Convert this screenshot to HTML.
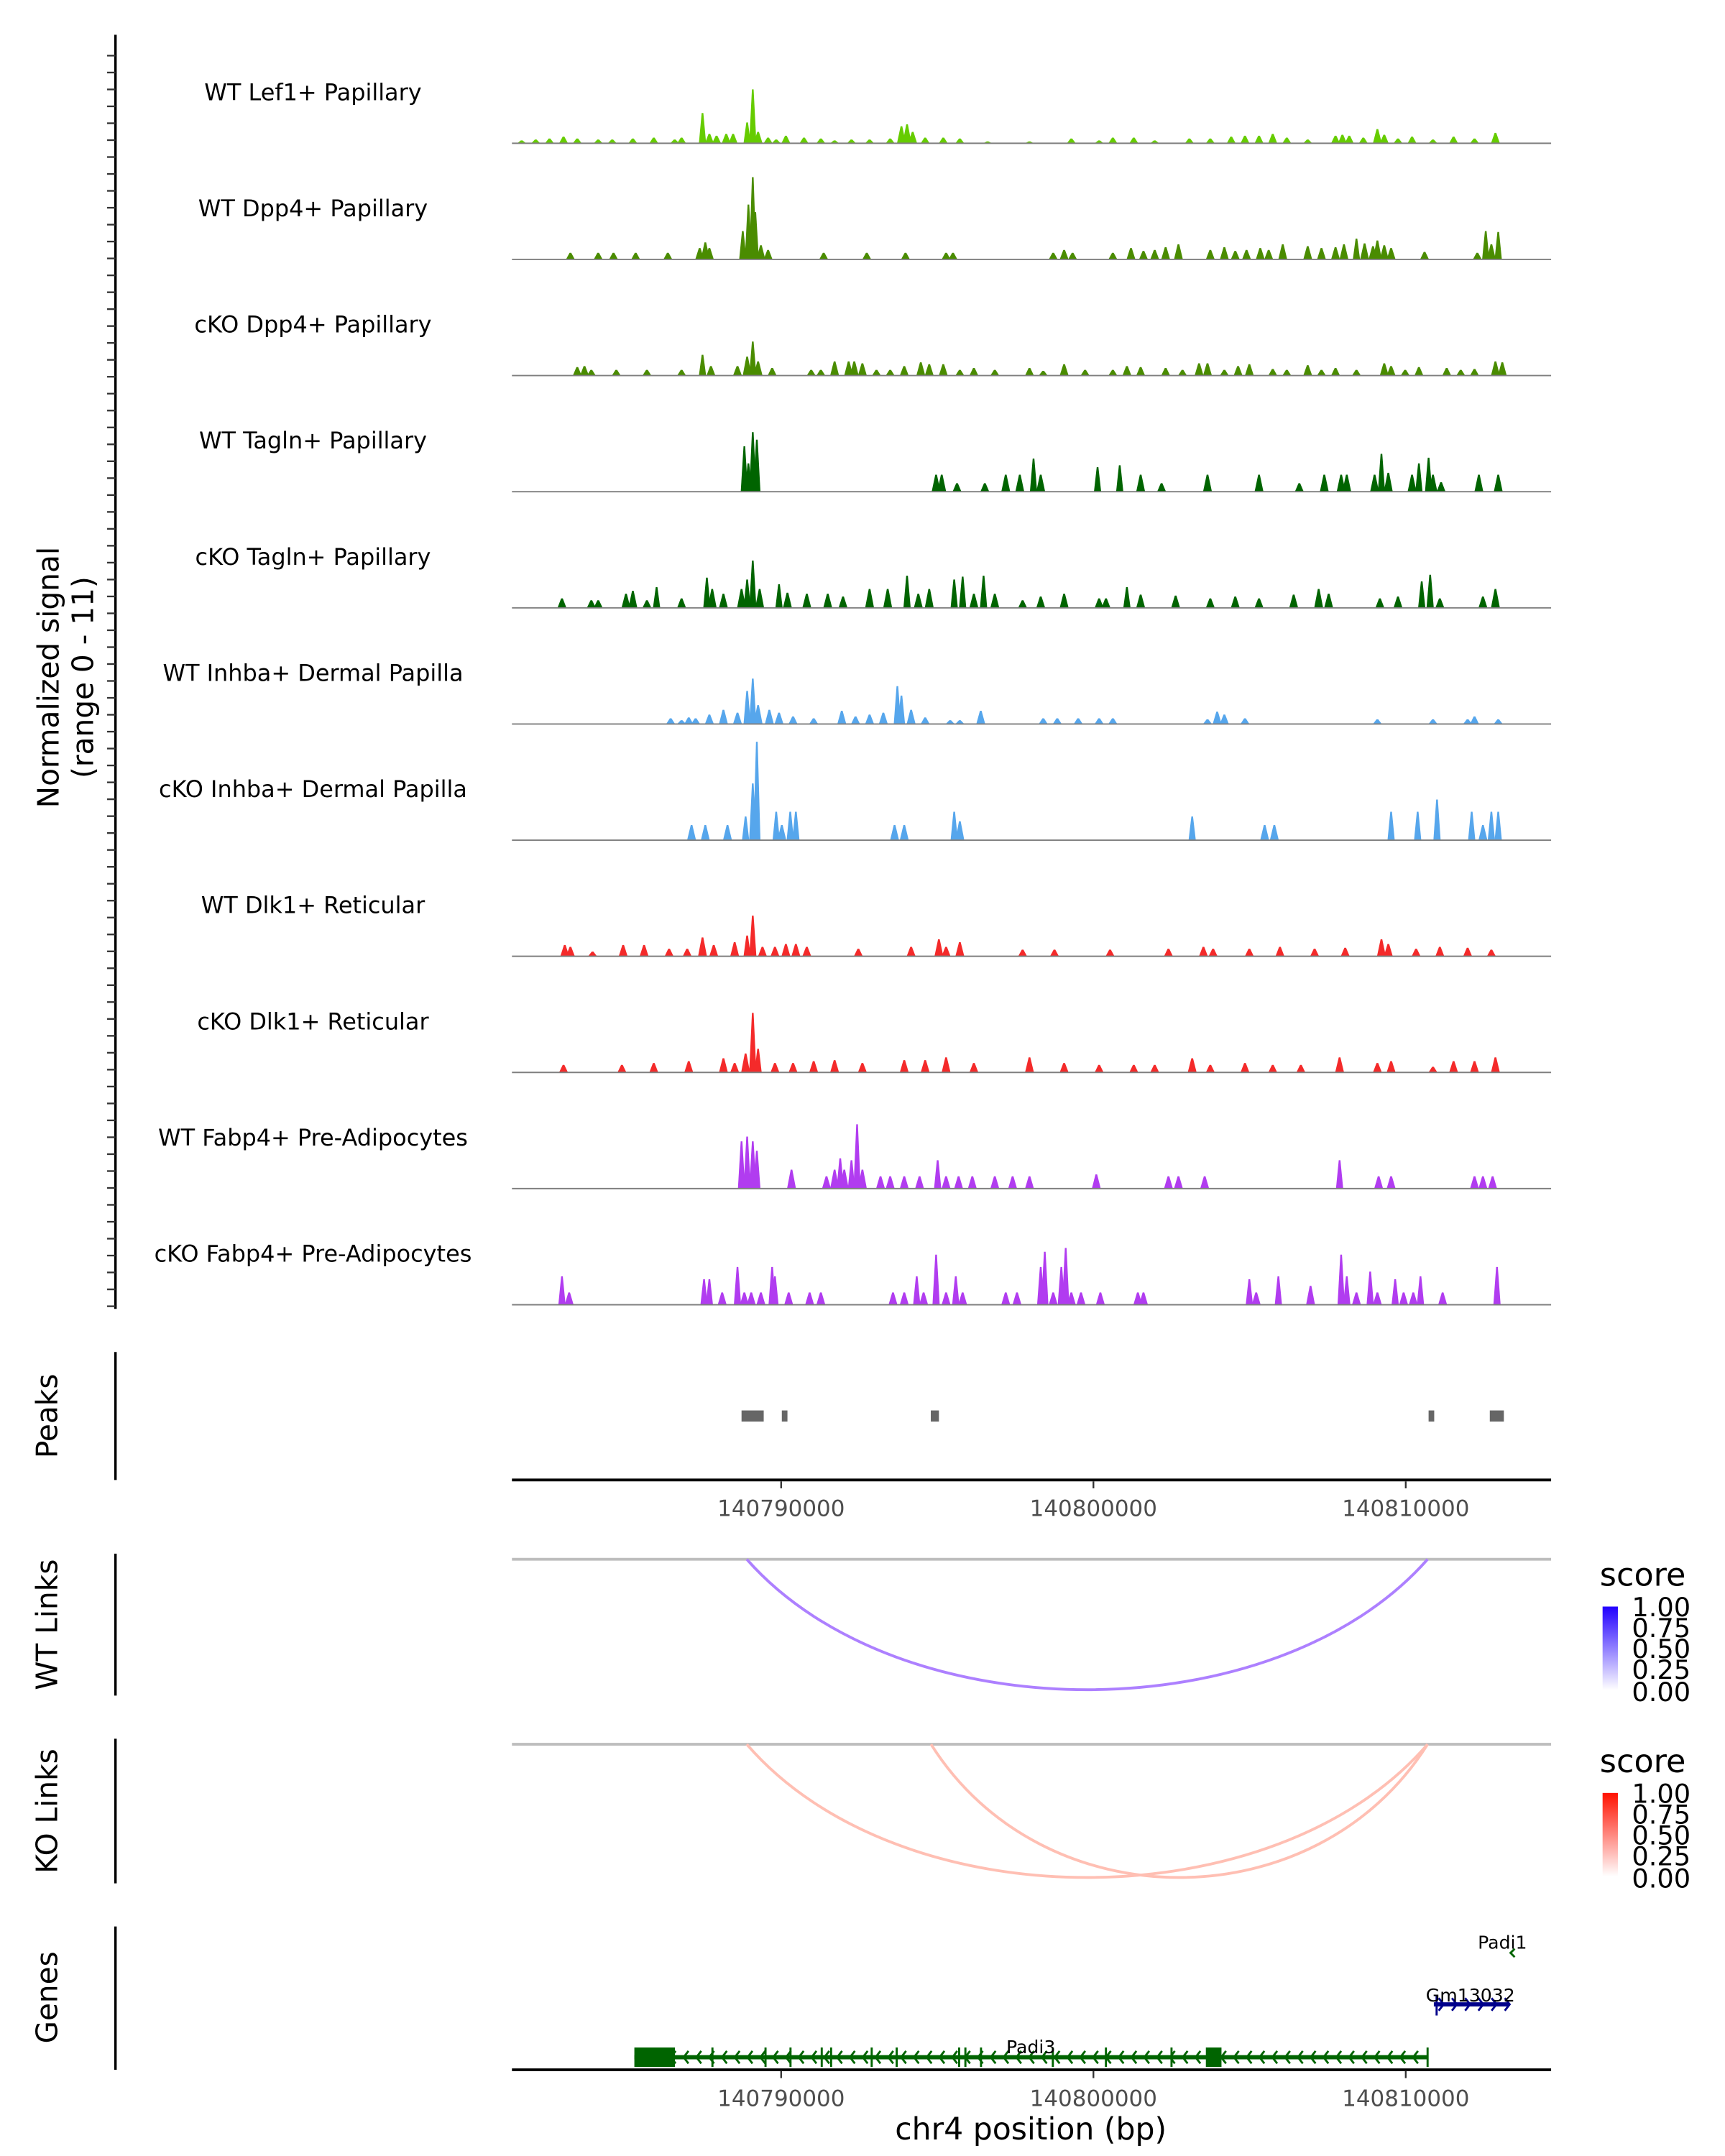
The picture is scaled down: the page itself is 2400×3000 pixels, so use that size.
<!DOCTYPE html>
<html><head><meta charset="utf-8"><style>
html,body{margin:0;padding:0;background:#fff;}
svg{display:block;font-family:"DejaVu Sans","Liberation Sans",sans-serif;}
</style></head><body>
<svg id="fig" width="2400" height="3000" viewBox="0 0 1240 1550" preserveAspectRatio="none" xmlns="http://www.w3.org/2000/svg">
<rect x="0" y="0" width="1240" height="1550" fill="#fff"/>
<g id="tracks"></g>
<line x1="83" y1="25" x2="83" y2="941" stroke="#000" stroke-width="1.8"/>
<g id="yticks"></g>
<text transform="translate(42,487) rotate(-90)" text-anchor="middle" font-size="21">Normalized signal</text>
<text transform="translate(67,487) rotate(-90)" text-anchor="middle" font-size="21">(range 0 - 11)</text>

<line x1="83" y1="972" x2="83" y2="1064" stroke="#000" stroke-width="1.8"/>
<text transform="translate(41,1018) rotate(-90)" text-anchor="middle" font-size="21">Peaks</text>
<g id="peaks"></g>
<g id="xaxis1"></g>

<line x1="83" y1="1117" x2="83" y2="1219" stroke="#000" stroke-width="1.8"/>
<text transform="translate(41,1168) rotate(-90)" text-anchor="middle" font-size="21">WT Links</text>
<line x1="368" y1="1121" x2="1115" y2="1121" stroke="#bdbdbd" stroke-width="2"/>
<g id="wtlinks"></g>

<line x1="83" y1="1250" x2="83" y2="1354" stroke="#000" stroke-width="1.8"/>
<text transform="translate(41,1302) rotate(-90)" text-anchor="middle" font-size="21">KO Links</text>
<line x1="368" y1="1254" x2="1115" y2="1254" stroke="#bdbdbd" stroke-width="2"/>
<g id="kolinks"></g>

<defs>
<linearGradient id="gblue" x1="0" y1="1" x2="0" y2="0"><stop offset="0" stop-color="#fff"/><stop offset="1" stop-color="#2200ff"/></linearGradient>
<linearGradient id="gred" x1="0" y1="1" x2="0" y2="0"><stop offset="0" stop-color="#fff"/><stop offset="1" stop-color="#ff1100"/></linearGradient>
</defs>
<g>
<text x="1150" y="1140" font-size="23">score</text>
<rect x="1152" y="1155" width="11" height="60" fill="url(#gblue)"/>
<g font-size="19"><text x="1173" y="1162">1.00</text><text x="1173" y="1177">0.75</text><text x="1173" y="1192">0.50</text><text x="1173" y="1207">0.25</text><text x="1173" y="1223">0.00</text></g>
</g>
<g>
<text x="1150" y="1274" font-size="23">score</text>
<rect x="1152" y="1289" width="11" height="60" fill="url(#gred)"/>
<g font-size="19"><text x="1173" y="1296">1.00</text><text x="1173" y="1311">0.75</text><text x="1173" y="1326">0.50</text><text x="1173" y="1341">0.25</text><text x="1173" y="1357">0.00</text></g>
</g>

<line x1="83" y1="1385" x2="83" y2="1488" stroke="#000" stroke-width="1.8"/>
<text transform="translate(41,1436) rotate(-90)" text-anchor="middle" font-size="21">Genes</text>
<g id="genes"></g>
<g id="xaxis2"></g>
<text x="741" y="1538" text-anchor="middle" font-size="22">chr4 position (bp)</text>
</svg>
<script>
const ORIGIN = 140780312;
const trackNames = ["WT Lef1+ Papillary","WT Dpp4+ Papillary","cKO Dpp4+ Papillary","WT Tagln+ Papillary","cKO Tagln+ Papillary","WT Inhba+ Dermal Papilla","cKO Inhba+ Dermal Papilla","WT Dlk1+ Reticular","cKO Dlk1+ Reticular","WT Fabp4+ Pre-Adipocytes","cKO Fabp4+ Pre-Adipocytes"];
const trackColors = ["#66cc00","#4a8c00","#4a8c00","#006400","#006400","#56a6ec","#56a6ec","#f42a2a","#f42a2a","#b13cf0","#b13cf0"];
// [kb offset from ORIGIN, normalized signal]
const lef1WT = [[1.38,.3],[1.83,.4],[2.27,.5],[2.72,.7],[3.16,.5],[3.83,.4],[4.28,.4],[4.94,.5],[5.61,.6],[6.28,.4],[6.5,.6],[7.17,3.2],[7.39,1.0],[7.62,.8],[7.93,1.0],[8.15,1.0],[8.6,2.2],[8.78,5.7],[8.95,1.2],[9.27,.6],[9.53,.4],[9.84,.8],[10.42,.6],[10.96,.5],[11.4,.3],[11.94,.4],[12.52,.4],[13.18,.5],[13.54,1.8],[13.72,2.0],[13.9,1.2],[14.3,.6],[14.88,.6],[15.41,.5],[16.3,.2],[17.64,.2],[18.98,.5],[19.87,.3],[20.31,.6],[20.98,.6],[21.65,.3],[22.76,.5],[23.43,.5],[24.1,.7],[24.54,.8],[24.99,.8],[25.43,1.0],[25.88,.6],[26.55,.4],[27.44,.8],[27.66,.9],[27.88,.8],[28.33,.6],[28.78,1.5],[29.0,.9],[29.44,.5],[29.89,.7],[30.56,.4],[31.22,.7],[31.89,.5],[32.56,1.1]];
const dpp4WT = [[2.94,.7],[3.83,.7],[4.32,.7],[5.03,.7],[6.06,.7],[7.08,1.2],[7.26,1.8],[7.39,1.2],[8.46,3.0],[8.64,5.8],[8.78,8.7],[8.86,5.0],[9.04,1.5],[9.27,1.0],[11.05,.7],[12.43,.7],[13.67,.7],[14.97,.7],[15.19,.7],[18.4,.7],[18.75,1.0],[19.02,.7],[20.31,.7],[20.89,1.2],[21.29,.9],[21.65,1.0],[22.0,1.3],[22.41,1.6],[23.43,1.0],[23.88,1.3],[24.23,.9],[24.59,1.0],[25.03,1.2],[25.3,1.0],[25.75,1.6],[26.55,1.4],[26.99,1.2],[27.44,1.3],[27.71,1.6],[28.11,2.2],[28.37,1.7],[28.64,1.4],[28.78,2.0],[29.0,1.5],[29.22,1.2],[30.29,.8],[31.98,.7],[32.25,3.0],[32.43,1.6],[32.65,2.9]];
const dpp4KO = [[3.16,.9],[3.39,1.0],[3.61,.6],[4.41,.6],[5.39,.6],[6.5,.6],[7.17,2.2],[7.44,1.0],[8.29,1.0],[8.6,2.0],[8.78,3.6],[8.95,1.5],[9.4,.8],[10.65,.6],[10.96,.6],[11.4,1.5],[11.85,1.5],[12.03,1.5],[12.29,1.3],[12.74,.6],[13.18,.6],[13.63,1.0],[14.16,1.4],[14.43,1.2],[14.88,1.2],[15.41,.6],[15.86,.8],[16.53,.6],[17.64,.8],[18.08,.5],[18.75,1.2],[19.42,.6],[20.31,.6],[20.76,1.0],[21.2,.9],[22.0,.8],[22.54,.6],[23.07,1.3],[23.34,1.3],[23.88,.6],[24.32,1.0],[24.68,1.2],[25.43,.7],[25.88,.6],[26.55,1.1],[26.99,.6],[27.44,.8],[28.11,.6],[29.0,1.3],[29.22,1.0],[29.67,.6],[30.11,.9],[31.0,.8],[31.45,.6],[31.89,.7],[32.56,1.5],[32.78,1.4]];
const taglnWT = [[8.51,4.8],[8.64,3.0],[8.78,6.3],[8.91,5.5],[14.65,1.8],[14.83,1.8],[15.32,.9],[16.21,.9],[16.88,1.8],[17.33,1.8],[17.77,3.5],[18.0,1.8],[19.82,2.6],[20.53,2.8],[21.2,1.8],[21.87,.9],[23.34,1.8],[24.99,1.8],[26.28,.9],[27.08,1.8],[27.62,1.8],[27.8,1.8],[28.69,1.8],[28.91,4.0],[29.13,2.0],[29.89,1.8],[30.11,3.0],[30.42,3.6],[30.56,1.8],[30.82,1.0],[32.03,1.8],[32.65,1.8]];
const taglnKO = [[2.67,1.0],[3.61,.8],[3.83,.8],[4.72,1.5],[4.94,1.8],[5.39,.8],[5.7,2.2],[6.5,1.0],[7.31,3.2],[7.48,2.0],[7.84,1.5],[8.42,2.0],[8.6,3.0],[8.78,5.0],[9.0,2.0],[9.62,2.5],[9.89,1.6],[10.51,1.5],[11.18,1.5],[11.67,1.2],[12.52,2.0],[13.1,2.0],[13.72,3.4],[14.08,1.5],[14.43,2.0],[15.23,3.0],[15.5,3.3],[15.86,1.5],[16.17,3.4],[16.53,1.5],[17.42,.8],[18.0,1.2],[18.75,1.5],[19.87,1.0],[20.09,1.0],[20.76,2.2],[21.2,1.4],[22.32,1.3],[23.43,1.0],[24.23,1.2],[24.99,1.0],[26.1,1.4],[26.9,2.0],[27.22,1.5],[28.86,1.0],[29.44,1.2],[30.2,2.8],[30.47,3.5],[30.78,1.0],[32.16,1.2],[32.56,2.0]];
const inhbaWT = [[6.15,.6],[6.5,.4],[6.73,.7],[6.95,.6],[7.39,1.0],[7.84,1.5],[8.29,1.2],[8.6,3.5],[8.78,4.8],[8.95,2.0],[9.31,1.5],[9.62,1.2],[10.07,.8],[10.73,.6],[11.63,1.4],[12.07,.8],[12.52,1.0],[12.96,1.2],[13.41,4.0],[13.54,3.0],[13.85,1.5],[14.3,.7],[15.1,.4],[15.41,.4],[16.08,1.4],[18.08,.6],[18.53,.6],[19.2,.6],[19.87,.6],[20.31,.6],[23.34,.5],[23.65,1.3],[23.88,1.0],[24.54,.6],[28.78,.5],[30.56,.5],[31.67,.5],[31.89,.8],[32.65,.5]];
const inhbaKO = [[6.82,1.6],[7.26,1.6],[7.97,1.6],[8.55,2.5],[8.78,6.0],[8.91,10.4],[9.53,3.0],[9.71,1.6],[9.98,3.0],[10.16,3.0],[13.32,1.6],[13.63,1.6],[15.23,3.0],[15.41,2.0],[22.85,2.5],[25.17,1.6],[25.48,1.6],[29.22,3.0],[30.07,3.0],[30.69,4.3],[31.8,3.0],[32.16,1.6],[32.43,3.0],[32.65,3.0]];
const dlk1WT = [[2.76,1.2],[2.94,1.0],[3.65,.5],[4.63,1.2],[5.3,1.2],[6.1,.8],[6.68,.8],[7.17,2.0],[7.53,1.2],[8.2,1.5],[8.6,2.2],[8.78,4.3],[9.09,1.0],[9.49,1.0],[9.84,1.3],[10.16,1.3],[10.51,1.0],[12.16,.8],[13.85,1.0],[14.74,1.8],[14.97,1.0],[15.41,1.5],[17.42,.7],[18.44,.7],[20.22,.7],[22.09,.8],[23.21,1.0],[23.52,.8],[24.68,.8],[25.66,1.0],[26.77,.8],[27.75,.9],[28.91,1.8],[29.13,1.3],[30.02,.8],[30.78,1.0],[31.67,.9],[32.43,.7]];
const dlk1KO = [[2.72,.8],[4.59,.8],[5.61,1.0],[6.73,1.2],[7.84,1.5],[8.2,1.0],[8.55,2.0],[8.78,6.3],[8.95,2.5],[9.49,1.0],[10.07,1.0],[10.73,1.2],[11.4,1.3],[12.29,1.0],[13.63,1.3],[14.3,1.3],[14.97,1.6],[15.86,1.0],[17.64,1.6],[18.75,1.0],[19.87,.8],[20.98,.8],[21.65,.8],[22.85,1.5],[23.43,.8],[24.54,1.0],[25.43,.8],[26.33,.8],[27.57,1.6],[28.78,1.0],[29.22,1.2],[30.56,.6],[31.22,1.2],[31.89,1.2],[32.56,1.6]];
const fabp4WT = [[8.42,5.0],[8.6,5.5],[8.78,5.0],[8.91,4.0],[10.02,2.0],[11.14,1.3],[11.4,2.0],[11.58,3.2],[11.71,2.0],[11.94,3.0],[12.12,6.8],[12.29,2.0],[12.87,1.3],[13.18,1.3],[13.63,1.3],[14.12,1.3],[14.7,3.0],[14.97,1.3],[15.37,1.3],[15.81,1.3],[16.53,1.3],[17.1,1.3],[17.64,1.3],[19.78,1.5],[22.09,1.3],[22.41,1.3],[23.25,1.3],[27.57,3.0],[28.82,1.3],[29.22,1.3],[31.89,1.3],[32.16,1.3],[32.47,1.3]];
const fabp4KO = [[2.67,3.0],[2.9,1.3],[7.22,2.7],[7.39,2.7],[7.8,1.3],[8.29,4.0],[8.51,1.3],[8.73,1.3],[9.04,1.3],[9.4,4.0],[9.49,3.0],[9.93,1.3],[10.6,1.3],[10.96,1.3],[13.27,1.3],[13.63,1.3],[14.03,3.0],[14.25,1.3],[14.65,5.3],[14.97,1.3],[15.28,3.0],[15.5,1.3],[16.88,1.3],[17.24,1.3],[18.0,4.0],[18.13,5.6],[18.4,1.3],[18.66,4.0],[18.8,6.0],[18.98,1.3],[19.29,1.3],[19.91,1.3],[21.11,1.3],[21.29,1.3],[24.68,2.7],[24.9,1.3],[25.61,3.0],[26.64,2.0],[27.62,5.3],[27.8,3.0],[28.11,1.3],[28.55,3.5],[28.78,1.3],[29.35,2.7],[29.62,1.3],[29.93,1.3],[30.16,3.0],[30.87,1.3],[32.61,4.0]];
const trackData = [lef1WT,dpp4WT,dpp4KO,taglnWT,taglnKO,inhbaWT,inhbaKO,dlk1WT,dlk1KO,fabp4WT,fabp4KO];
const peakStarts = [8.42,9.71,14.48,30.42,32.38];
const peakEnds = [9.13,9.89,14.74,30.6,32.83];
const xTicks = [140790000,140800000,140810000];
const wtLinkStart = [140788900];
const wtLinkEnd = [140810700];
const wtLinkScore = [0.5];
const koLinkStart = [140788900,140794800];
const koLinkEnd = [140810700,140810700];
const koLinkScore = [0.3,0.3];

const NS='http://www.w3.org/2000/svg';
const X0=368, X1=1115, DOM0=140781380, DOM1=140814655;
function X(bp){return X0+(bp-DOM0)/(DOM1-DOM0)*(X1-X0);}
function Xkb(kb){return X(ORIGIN+kb*1000);}
const UNIT=6.8;
function Y(v,base){return base-v*UNIT;}
function mk(tag,attrs,parent){const e=document.createElementNS(NS,tag);for(const k in attrs)e.setAttribute(k,attrs[k]);parent.appendChild(e);return e;}

const tracks=document.getElementById('tracks');
for(let i=0;i<trackData.length;i++){
  const base=103+i*83.5;
  const g=mk('g',{},tracks);
  
  
  const t=mk('text',{x:225,y:base-31,'text-anchor':'middle','font-size':'16.5'},g);
  t.textContent=trackNames[i];
  
  
  for(const [kb,v] of trackData[i]){
    const x=Xkb(kb), y=Y(v,base), w=v>2?2.6:3.2;
    const p=mk('polygon',{points:`${x-w},${base} ${x-0.6},${y} ${x+0.6},${y} ${x+w},${base}`,fill:trackColors[i]},g);
    
    
  }
  const l=mk('line',{x1:X0,x2:X1,y1:base,y2:base,stroke:'#7f7f7f','stroke-width':1},g);
  
  
}
const yt=document.getElementById('yticks');
for(let y=40;y<=940;y+=12.15){
  const l=mk('line',{x1:77,x2:83,y1:y,y2:y,stroke:'#333','stroke-width':1.2},yt);
  
  
}
const pk=document.getElementById('peaks');
for(let i=0;i<peakStarts.length;i++){
  const a=Xkb(peakStarts[i]), b=Xkb(peakEnds[i]);
  const r=mk('rect',{x:a,y:1014,width:Math.max(b-a,3),height:8,fill:'#666'},pk);
  
  
}
function axis(id,y){
  const g=document.getElementById(id);
  const l=mk('line',{x1:X0,x2:X1,y1:y,y2:y,stroke:'#000','stroke-width':2},g);
  
  
  for(const t of xTicks){
    const tk=mk('line',{x1:X(t),x2:X(t),y1:y+1,y2:y+6,stroke:'#333','stroke-width':1.2},g);
    
    
    const tx=mk('text',{x:X(t),y:y+26,'text-anchor':'middle','font-size':'16',fill:'#4d4d4d'},g);
    tx.textContent=t;
    
    
  }
}
axis('xaxis1',1064); axis('xaxis2',1488);
function links(id,starts,ends,scores,base,depth,c1){
  const g=document.getElementById(id);
  for(let i=0;i<starts.length;i++){
    const a=X(starts[i]), b=X(ends[i]), m=(a+b)/2;
    const s=scores[i];
    const col=`rgb(${Math.round(255+(c1[0]-255)*s)},${Math.round(255+(c1[1]-255)*s)},${Math.round(255+(c1[2]-255)*s)})`;
    const p=mk('path',{d:`M${a},${base} C${a+(m-a)*0.45},${base+depth*1.33} ${b-(b-m)*0.45},${base+depth*1.33} ${b},${base}`,fill:'none',stroke:col,'stroke-width':2},g);
    
    
  }
}
links('wtlinks',wtLinkStart,wtLinkEnd,wtLinkScore,1121,94,[90,0,255]);
links('kolinks',koLinkStart,koLinkEnd,koLinkScore,1254,96,[255,40,0]);

// genes
const gn=document.getElementById('genes');
const padi3Start=140785300, padi3End=140810700;
const padi3Exons=[[140785300,140786600],[140803600,140804100]];
const padi3Marks=[140787800,140789500,140790300,140791300,140791600,140792900,140793700,140795700,140795900,140796400,140798700,140800400,140802500];
const G='#006400';
function gl(a,attrs,name){const e=mk(a,attrs,gn);return e;}
gl('line',{x1:X(padi3Start),x2:X(padi3End),y1:1479,y2:1479,stroke:G,'stroke-width':3},'padi3-intron-line');
for(const [a,b] of padi3Exons) gl('rect',{x:X(a),y:1472,width:X(b)-X(a),height:14,fill:G},'padi3-exon');
for(const m of padi3Marks) gl('line',{x1:X(m),x2:X(m),y1:1472,y2:1486,stroke:G,'stroke-width':1.5},'padi3-exon-mark');
gl('line',{x1:X(padi3End),x2:X(padi3End),y1:1472,y2:1486,stroke:G,'stroke-width':1.5},'padi3-end');
for(let x=X(padi3Start)+18;x<X(padi3End)-4;x+=9.2) gl('path',{d:`M${x+2.5},${1474.5} L${x-1},${1479} L${x+2.5},${1483.5}`,fill:'none',stroke:G,'stroke-width':1.5},'strand-arrow');
gl('text',{x:741,y:1476,'text-anchor':'middle','font-size':'13'},'padi3-label').textContent='Padi3';
const gmStart=140810900, gmEnd=140813300;
gl('line',{x1:X(gmStart),x2:X(gmEnd),y1:1441,y2:1441,stroke:'#00008b','stroke-width':3},'gm13032-line');
gl('line',{x1:X(gmStart)+2,x2:X(gmStart)+2,y1:1435,y2:1449,stroke:'#00008b','stroke-width':1.5},'gm13032-exon');
for(let x=X(gmStart)+6;x<X(gmEnd);x+=9.5) gl('path',{d:`M${x-2.5},1436.5 L${x+1},1441 L${x-2.5},1445.5`,fill:'none',stroke:'#00008b','stroke-width':1.5},'strand-arrow');
gl('text',{x:1057,y:1439,'text-anchor':'middle','font-size':'13'},'gm13032-label').textContent='Gm13032';
gl('path',{d:`M${X(140813400)+2},1401 L${X(140813400)-1},1404 L${X(140813400)+2},1407`,fill:'none',stroke:G,'stroke-width':1.5},'padi1-arrow');
gl('text',{x:1080,y:1401,'text-anchor':'middle','font-size':'13'},'padi1-label').textContent='Padi1';
</script>
</body></html>
